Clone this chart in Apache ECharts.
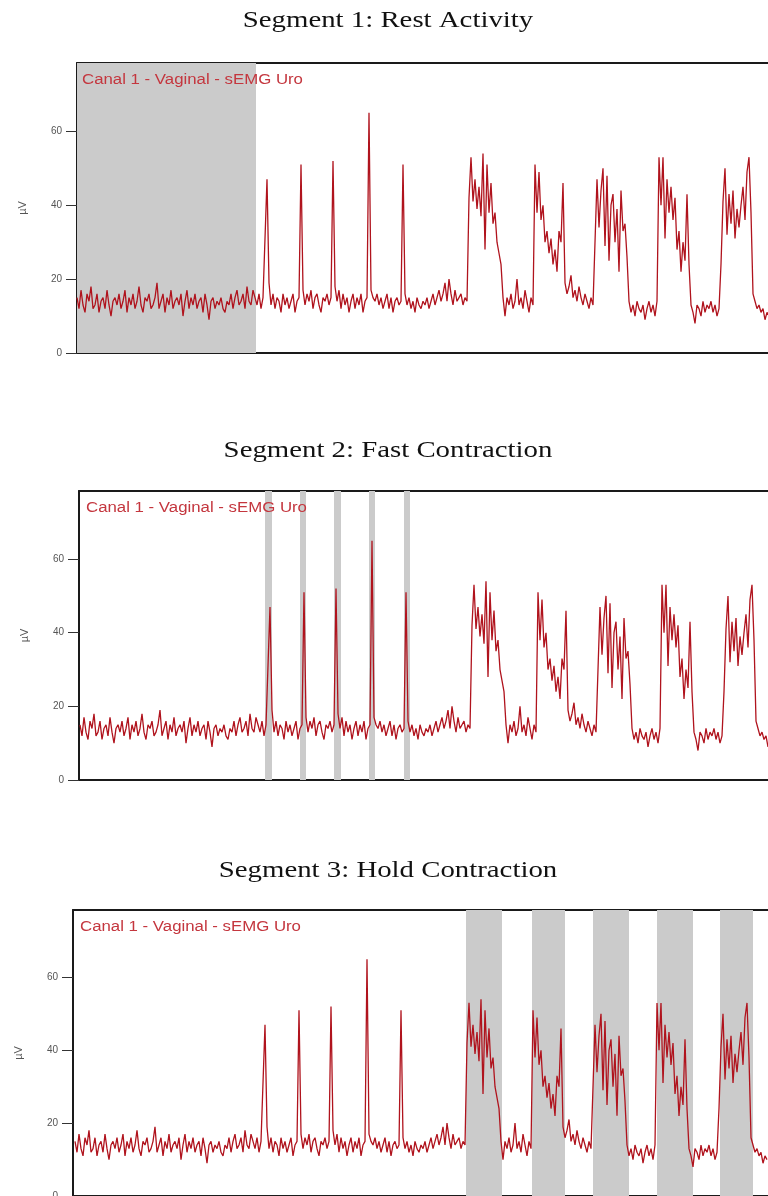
<!DOCTYPE html>
<html>
<head>
<meta charset="utf-8">
<script src="https://cdn.jsdelivr.net/npm/echarts@6/dist/echarts.min.js"></script>
<style>
html,body{margin:0;padding:0;background:#fff;}
#chart{width:768px;height:1196px;}
</style>
</head>
<body>
<div id="chart"></div>
<script>
// ---- data (sEMG amplitude in µV, one sample per step) ----
const restValues = [
 15,12,17,13,11,16,14,18,12,13,
 16,11,14,15,12,17,13,10,14,15,
 13,16,12,14,17,11,15,13,16,12,
 14,18,13,11,15,14,16,12,13,15,
 19,12,14,16,11,15,13,17,12,14,
 15,13,16,10,14,17,12,15,13,16,
 12,14,15,11,16,13,9,14,15,12,
 14,13,15,12,11,14,13,16,12,15,
 17,13,14,16,12,18,14,13,17,15
];
const fastValues = [
 13,16,12,15,15,47,19,13,16,12,
 15,14,11,16,13,15,12,14,16,11,
 14,15,51,17,13,16,14,17,12,15,
 16,13,11,15,14,16,13,15,52,18,
 14,17,12,16,13,15,11,14,16,12,
 15,13,16,11,14,15,65,17,15,14,
 16,13,15,12,14,16,12,15,11,14,
 15,13,14,51,16,13,15,12,14,11,
 15,13,12,14,13,15,12,14,16,13,
 15,17,14,16,19,14,20,16,13,17,
 14,15,16,13,15,14
];
const holdValues = [
 42,53,41,47,
 39,45,37,54,28,51,38,46,35,38,
 30,27,24,15,10,15,13,16,12,14,
 20,13,15,12,17,14,11,15,13,51,
 38,49,36,40,30,33,27,31,24,28,
 22,33,30,46,19,16,18,21,15,17,
 14,18,15,13,16,14,12,15,13,30,
 47,34,44,50,29,48,25,40,43,30,
 39,22,44,33,35,26,14,11,13,10,
 14,12,11,13,9,12,14,11,13,10,
 14,53,40,53,31,47,38,45,36,42,
 28,33,22,30,25,43,24,13,11,8,
 13,12,10,14,11,13,12,14,11,13,
 10,12,24,41,50,32,43,35,44,31,
 39,34,40,45,36,49,53,38,16,14,
 12,13,11,12,9,11,10
];
const yTicks = [0, 20, 40, 60];
const titles = ['Segment 1: Rest Activity', 'Segment 2: Fast Contraction', 'Segment 3: Hold Contraction'];
const channelLabel = 'Canal 1 - Vaginal - sEMG Uro';
const unitLabel = 'µV';
// highlighted sample ranges (start, end) for each segment
const restBands = [[0, 89.5]];
const fastBands = [[92.5, 96], [110, 113], [127, 130.5], [144.5, 147.5], [162, 165]];
const holdBands = [[195.5, 213.5], [228.5, 245], [259, 277], [291, 309], [322.5, 339]];

// ---- build ----
const signal = restValues.concat(fastValues, holdValues);
const seriesData = signal.map((v, i) => [i, v]);
const bandsList = [restBands, fastBands, holdBands];

const W = 768, PX_PER_SAMPLE = 2, Y_MAX = 78.5;
const panels = [
  {left: 77, top: 63, height: 290, xMin: 0, titleY: 21, labelX: 82, labelY: 80},
  {left: 79, top: 491, height: 289, xMin: -0.5, titleY: 451, labelX: 86, labelY: 508},
  {left: 73, top: 910, height: 286, xMin: -1, titleY: 871, labelX: 80, labelY: 927}
];

const boxLine = {show: true, onZero: false, lineStyle: {color: '#1a1a1a', width: 2}};
const xAxes = [];
panels.forEach((p, k) => {
  const xMax = p.xMin + (W - p.left) / PX_PER_SAMPLE;
  ['bottom', 'top'].forEach(pos => xAxes.push({
    gridIndex: k, type: 'value', min: p.xMin, max: xMax, position: pos,
    axisLine: boxLine, axisTick: {show: false}, axisLabel: {show: false}, splitLine: {show: false}
  }));
});

const option = {
  animation: false,
  backgroundColor: '#ffffff',
  grid: panels.map(p => ({
    left: p.left, top: p.top, right: 0, height: p.height, show: false,
    containLabel: false, outerBoundsMode: 'none'
  })),
  xAxis: xAxes,
  yAxis: panels.map((p, k) => ({
    gridIndex: k, type: 'value', min: 0, max: Y_MAX, interval: 20,
    axisLine: boxLine,
    axisTick: {show: true, length: 11, customValues: yTicks, lineStyle: {color: '#333', width: 1}},
    axisLabel: {customValues: yTicks, fontSize: 10, color: '#555', margin: 15, fontFamily: 'Liberation Sans'},
    splitLine: {show: false},
    name: unitLabel, nameLocation: 'middle', nameGap: 49, nameRotate: 90,
    nameTextStyle: {fontSize: 11, color: '#555', fontFamily: 'Liberation Sans'}
  })),
  series: panels.map((p, k) => ({
    type: 'line', xAxisIndex: 2 * k, yAxisIndex: k,
    data: seriesData, showSymbol: false, symbol: 'none', sampling: false,
    lineStyle: {color: '#b0131d', width: 1.3},
    z: 3,
    markArea: {
      silent: true, z: 1,
      itemStyle: {color: '#cbcbcb'},
      data: bandsList[k].map(b => [{xAxis: b[0]}, {xAxis: b[1]}])
    }
  })),
  graphic: [].concat(
    panels.map((p, k) => ({
      type: 'text', x: 388, y: p.titleY, scaleX: 1.2, z: 10,
      style: {text: titles[k], font: 'normal 24px "Liberation Serif"', fill: '#111',
              textAlign: 'center', textVerticalAlign: 'middle'}
    })),
    panels.map((p, k) => ({
      type: 'text', x: p.labelX, y: p.labelY, scaleX: 1.2, z: 10,
      style: {text: channelLabel, font: 'normal 14px "Liberation Sans"', fill: '#c4363e',
              textAlign: 'left', textVerticalAlign: 'middle'}
    }))
  )
};

const chart = echarts.init(document.getElementById('chart'), null, {renderer: 'canvas'});
chart.setOption(option);
</script>
</body>
</html>
